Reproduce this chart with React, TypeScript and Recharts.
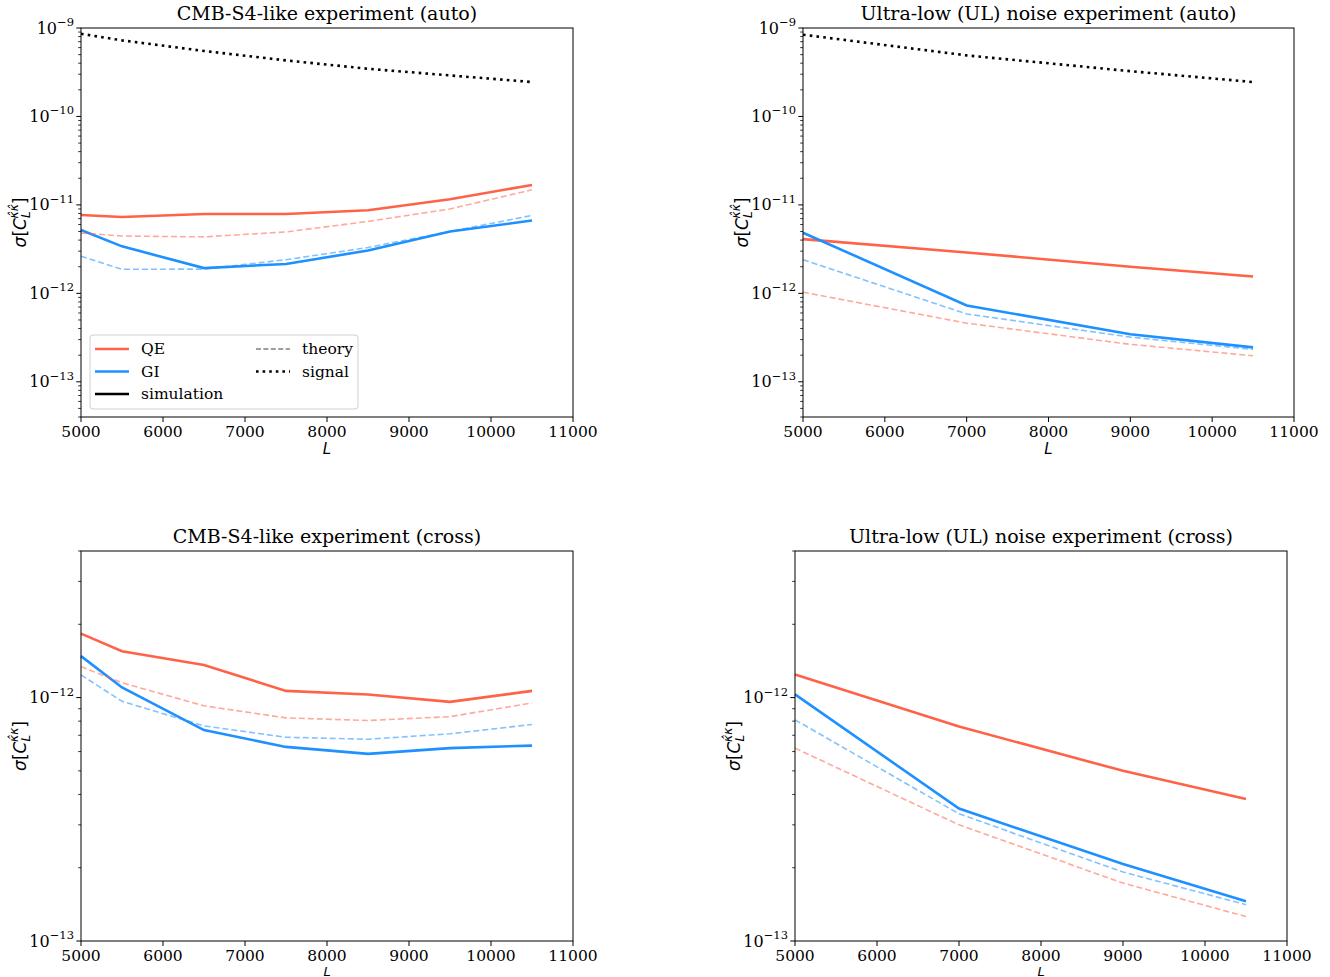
import React from 'react';
import { LineChart, Line, XAxis, YAxis } from 'recharts';

// multipole values
const L_S4 = [5000, 5500, 6500, 7500, 8500, 9500, 10500];
const L_UL = [5000, 7000, 9000, 10500];
const L_TICKS = [5000, 6000, 7000, 8000, 9000, 10000, 11000];

// CMB-S4-like, auto
const S4_AUTO_QE_SIM = [7.7e-12, 7.3e-12, 7.9e-12, 7.9e-12, 8.7e-12, 1.16e-11, 1.68e-11];
const S4_AUTO_QE_TH = [4.8e-12, 4.45e-12, 4.35e-12, 4.95e-12, 6.5e-12, 9.0e-12, 1.48e-11];
const S4_AUTO_GI_SIM = [5.2e-12, 3.4e-12, 1.93e-12, 2.15e-12, 3.05e-12, 5.0e-12, 6.65e-12];
const S4_AUTO_GI_TH = [2.63e-12, 1.87e-12, 1.88e-12, 2.4e-12, 3.3e-12, 5.0e-12, 7.6e-12];
const S4_SIGNAL = [8.6e-10, 7.25e-10, 5.5e-10, 4.3e-10, 3.46e-10, 2.91e-10, 2.45e-10];

// Ultra-low noise, auto
const UL_AUTO_QE_SIM = [4.1e-12, 2.9e-12, 2.0e-12, 1.55e-12];
const UL_AUTO_QE_TH = [1.03e-12, 4.6e-13, 2.65e-13, 1.97e-13];
const UL_AUTO_GI_SIM = [4.85e-12, 7.3e-13, 3.45e-13, 2.45e-13];
const UL_AUTO_GI_TH = [2.4e-12, 5.85e-13, 3.2e-13, 2.32e-13];
const UL_SIGNAL = [8.4e-10, 4.9e-10, 3.25e-10, 2.45e-10];

// CMB-S4-like, cross
const S4_CROSS_QE_SIM = [1.83e-12, 1.55e-12, 1.36e-12, 1.065e-12, 1.03e-12, 9.6e-13, 1.065e-12];
const S4_CROSS_QE_TH = [1.34e-12, 1.15e-12, 9.25e-13, 8.25e-13, 8.05e-13, 8.35e-13, 9.5e-13];
const S4_CROSS_GI_SIM = [1.48e-12, 1.1e-12, 7.35e-13, 6.27e-13, 5.87e-13, 6.2e-13, 6.35e-13];
const S4_CROSS_GI_TH = [1.24e-12, 9.65e-13, 7.65e-13, 6.87e-13, 6.74e-13, 7.1e-13, 7.75e-13];

// Ultra-low noise, cross
const UL_CROSS_QE_SIM = [1.245e-12, 7.6e-13, 5.0e-13, 3.83e-13];
const UL_CROSS_QE_TH = [6.2e-13, 3.0e-13, 1.73e-13, 1.26e-13];
const UL_CROSS_GI_SIM = [1.03e-12, 3.5e-13, 2.07e-13, 1.455e-13];
const UL_CROSS_GI_TH = [8.1e-13, 3.33e-13, 1.92e-13, 1.41e-13];

const AUTO_DOMAIN: [number, number] = [4e-14, 1e-9];
const CROSS_DOMAIN: [number, number] = [1e-13, 4e-12];

const QE = '#ff6347';
const GI = '#1e90ff';

const logTicks = (lo: number, hi: number) => {
  const out: number[] = [];
  for (let e = Math.floor(Math.log10(lo)); e <= Math.ceil(Math.log10(hi)); e++) {
    for (let k = 1; k <= 9; k++) {
      const v = Number((k * Math.pow(10, e)).toPrecision(3));
      if (v >= lo * 0.999 && v <= hi * 1.001) out.push(v);
    }
  }
  return out;
};

const buildRows = (ls: number[], s: Record<string, number[]>) =>
  ls.map((L, i) => {
    const row: Record<string, number> = { L };
    Object.keys(s).forEach((k) => (row[k] = s[k][i]));
    return row;
  });

// y tick: x arrives at the axis line (tickSize/tickMargin are 0)
const LogTick = (props: any) => {
  const { x, y, payload } = props;
  const v = payload.value;
  const e = Math.round(Math.log10(v));
  const major = Math.abs(v / Math.pow(10, e) - 1) < 1e-6;
  if (!major) return <line x1={x - 2.8} x2={x} y1={y} y2={y} stroke="#000" strokeWidth={0.8} />;
  return (
    <g>
      <line x1={x - 4.7} x2={x} y1={y} y2={y} stroke="#000" strokeWidth={1} />
      <text x={x - 7} y={y + 5.5} textAnchor="end" fontSize={16} fill="#000">
        <tspan>10</tspan>
        <tspan dy={-7.5} fontSize={11.5}>{'\u2212' + Math.abs(e)}</tspan>
      </text>
    </g>
  );
};

type PanelDef = {
  title: string;
  left: number;
  top: number;
  w: number;
  h: number;
  domain: [number, number];
  rows: Record<string, number>[];
  signal: boolean;
  cross: boolean;
};

const Y_W = 75;
const X_H = 40;
const M = { top: 25, left: 5, right: 35, bottom: 5 };

const PANELS: PanelDef[] = [
  {
    title: 'CMB-S4-like experiment (auto)', left: 81, top: 28, w: 492, h: 389, domain: AUTO_DOMAIN, signal: true, cross: false,
    rows: buildRows(L_S4, { qeSim: S4_AUTO_QE_SIM, qeTh: S4_AUTO_QE_TH, giSim: S4_AUTO_GI_SIM, giTh: S4_AUTO_GI_TH, signal: S4_SIGNAL }),
  },
  {
    title: 'Ultra-low (UL) noise experiment (auto)', left: 803, top: 28, w: 491, h: 389, domain: AUTO_DOMAIN, signal: true, cross: false,
    rows: buildRows(L_UL, { qeSim: UL_AUTO_QE_SIM, qeTh: UL_AUTO_QE_TH, giSim: UL_AUTO_GI_SIM, giTh: UL_AUTO_GI_TH, signal: UL_SIGNAL }),
  },
  {
    title: 'CMB-S4-like experiment (cross)', left: 81, top: 551, w: 492, h: 390, domain: CROSS_DOMAIN, signal: false, cross: true,
    rows: buildRows(L_S4, { qeSim: S4_CROSS_QE_SIM, qeTh: S4_CROSS_QE_TH, giSim: S4_CROSS_GI_SIM, giTh: S4_CROSS_GI_TH }),
  },
  {
    title: 'Ultra-low (UL) noise experiment (cross)', left: 795, top: 551, w: 492, h: 390, domain: CROSS_DOMAIN, signal: false, cross: true,
    rows: buildRows(L_UL, { qeSim: UL_CROSS_QE_SIM, qeTh: UL_CROSS_QE_TH, giSim: UL_CROSS_GI_SIM, giTh: UL_CROSS_GI_TH }),
  },
];

const Panel = ({ p }: { p: PanelDef }) => (
  <div style={{ position: 'absolute', left: p.left - M.left - Y_W, top: p.top - M.top }}>
    <LineChart width={p.w + M.left + Y_W + M.right} height={p.h + M.top + X_H + M.bottom} data={p.rows} margin={M}>
      <XAxis
        dataKey="L"
        type="number"
        domain={[5000, 11000]}
        ticks={L_TICKS}
        interval={0}
        height={X_H}
        axisLine={false}
        tickSize={5}
        tickMargin={4}
        tickLine={{ stroke: '#000' }}
        tick={{ fill: '#000', fontSize: 15.5 }}
      />
      <YAxis
        type="number"
        scale="log"
        domain={p.domain}
        allowDataOverflow
        ticks={logTicks(p.domain[0], p.domain[1])}
        interval={0}
        width={Y_W}
        axisLine={false}
        tickLine={false}
        tickSize={0}
        tickMargin={0}
        tick={<LogTick />}
      />
      <Line dataKey="qeSim" stroke={QE} strokeWidth={2.6} dot={false} isAnimationActive={false} />
      <Line dataKey="giSim" stroke={GI} strokeWidth={2.6} dot={false} isAnimationActive={false} />
      <Line dataKey="qeTh" stroke={QE} strokeOpacity={0.55} strokeWidth={1.6} strokeDasharray="6 3" dot={false} isAnimationActive={false} />
      <Line dataKey="giTh" stroke={GI} strokeOpacity={0.55} strokeWidth={1.6} strokeDasharray="6 3" dot={false} isAnimationActive={false} />
      {p.signal && (
        <Line dataKey="signal" stroke="#000" strokeWidth={2.6} strokeDasharray="2.6 4.2" dot={false} isAnimationActive={false} />
      )}
    </LineChart>
  </div>
);

const YLabel = ({ x, y, cross }: { x: number; y: number; cross: boolean }) => (
  <text transform={`translate(${x},${y}) rotate(-90)`} textAnchor="middle" fontFamily="DejaVu Sans" fontSize={17} fill="#000">
    <tspan fontStyle="italic">σ</tspan>
    <tspan>[</tspan>
    <tspan fontStyle="italic">C</tspan>
    <tspan fontSize={12} fontStyle="italic" dy={4}>L</tspan>
    <tspan fontSize={12} fontStyle="italic" dx={-7} dy={-12}>{cross ? 'κ\u0302κ' : 'κ\u0302κ\u0302'}</tspan>
    <tspan dy={8}>]</tspan>
  </text>
);

const LEGEND_ITEMS = [
  { label: 'QE', color: QE, dash: undefined as string | undefined, width: 2.6, col: 0, row: 0 },
  { label: 'GI', color: GI, dash: undefined, width: 2.6, col: 0, row: 1 },
  { label: 'simulation', color: '#000', dash: undefined, width: 2.6, col: 0, row: 2 },
  { label: 'theory', color: '#808080', dash: '5 2.4', width: 1.5, col: 1, row: 0 },
  { label: 'signal', color: '#000', dash: '2.6 4', width: 2.6, col: 1, row: 1 },
];

const LegendBox = ({ x, y }: { x: number; y: number }) => (
  <g>
    <rect x={x} y={y} width={268} height={74} rx={3} fill="#fff" fillOpacity={0.8} stroke="#d0d0d0" />
    {LEGEND_ITEMS.map((r) => {
      const lx = x + 5 + r.col * 161;
      const ly = y + 14 + r.row * 22.5;
      return (
        <g key={r.label}>
          <line x1={lx} x2={lx + 34} y1={ly} y2={ly} stroke={r.color} strokeWidth={r.width} strokeDasharray={r.dash} />
          <text x={lx + 46} y={ly + 5} fontSize={15.5} fill="#000">{r.label}</text>
        </g>
      );
    })}
  </g>
);

export default function App() {
  return (
    <div style={{ position: 'absolute', left: 0, top: 0, width: 1330, height: 977, background: '#fff', fontFamily: '"DejaVu Serif", serif', overflow: 'hidden' }}>
      {PANELS.map((p) => (
        <Panel key={p.title} p={p} />
      ))}
      <svg width={1330} height={977} style={{ position: 'absolute', left: 0, top: 0, pointerEvents: 'none' }}>
        {PANELS.map((p) => {
          const bottomRow = p.top + p.h + 37 > 970;
          return (
            <g key={p.title}>
              <rect x={p.left} y={p.top} width={p.w} height={p.h} fill="none" stroke="#000" strokeWidth={1} />
              <text x={p.left + p.w / 2} y={p.top - 8} textAnchor="middle" fontSize={19} fill="#000">{p.title}</text>
              <text
                x={p.left + p.w / 2}
                y={bottomRow ? 975.5 : p.top + p.h + 37}
                textAnchor="middle"
                fontFamily="DejaVu Sans"
                fontStyle="italic"
                fontSize={bottomRow ? 13 : 15}
                fill="#000"
              >
                L
              </text>
              <YLabel x={p.left - 55} y={p.top + p.h / 2} cross={p.cross} />
            </g>
          );
        })}
        <LegendBox x={90} y={335} />
      </svg>
    </div>
  );
}
